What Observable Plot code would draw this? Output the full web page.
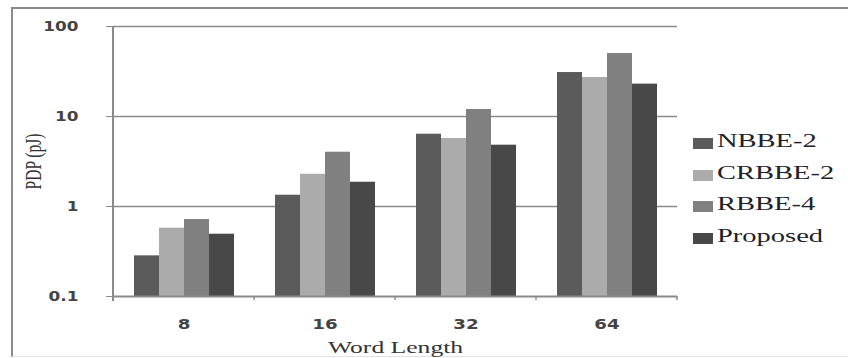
<!DOCTYPE html>
<html><head><meta charset="utf-8">
<script src="https://cdn.jsdelivr.net/npm/d3@7"></script>
<script src="https://cdn.jsdelivr.net/npm/@observablehq/plot@0.6"></script>
<style>
body{margin:0;background:#fff;}
#wrap{position:relative;width:848px;height:358px;overflow:hidden;background:#fff;}
#frame{position:absolute;left:11px;top:7px;width:900px;height:347px;border-left:2px solid #8a8a8a;border-top:2px solid #8a8a8a;border-bottom:1px solid #e2e2e2;}
#chart{position:absolute;left:0;top:0;}
#legend{position:absolute;left:693px;top:129px;font-family:"Liberation Serif",serif;font-size:19px;color:#1e2228;}
.row{position:relative;height:31.7px;}
.sw{position:absolute;left:0;top:9px;width:20px;height:11px;}
.lt{position:absolute;left:24px;top:0;line-height:24px;white-space:nowrap;transform:scaleX(1.5);transform-origin:left center;}
</style>
</head><body>
<div id="wrap"><div id="frame"></div><div id="chart"></div><div id="legend"></div></div>
<script>
const wordLengths = ["8", "16", "32", "64"];
const series = ["NBBE-2", "CRBBE-2", "RBBE-4", "Proposed"];
const nbbe2 = [0.283, 1.335, 6.36, 30.8];
const crbbe2 = [0.574, 2.28, 5.70, 27.1];
const rbbe4 = [0.717, 4.01, 11.96, 50.1];
const proposed = [0.492, 1.86, 4.80, 22.9];
const yTicks = [0.1, 1, 10, 100];
const colors = ["#5b5b5b", "#ababab", "#808080", "#484848"];

const valuesBySeries = [nbbe2, crbbe2, rbbe4, proposed];
const data = [];
wordLengths.forEach((wl, i) => series.forEach((s, j) => data.push({wl, series: s, value: valuesBySeries[j][i]})));

const plot = Plot.plot({
  width: 848, height: 358,
  marginLeft: 112, marginRight: 170, marginTop: 26, marginBottom: 62,
  style: {background: "transparent", fontFamily: "DejaVu Sans", fontSize: "13.5px", color: "#444"},
  fx: {domain: wordLengths, padding: 0},
  x: {domain: series, paddingInner: 0, paddingOuter: 0.76, axis: null},
  y: {type: "log", domain: [0.1, 100]},
  color: {domain: series, range: colors},
  marks: [
    Plot.gridY(yTicks.slice(1), {stroke: "#8a8a8a", strokeOpacity: 1, strokeWidth: 1.6}),
    Plot.barY(data, {fx: "wl", x: "series", y1: 0.1, y2: "value", fill: "series"}),
    Plot.ruleY([0.1], {stroke: "#8a8a8a", strokeWidth: 2}),
    Plot.axisY({ticks: yTicks, tickFormat: d => String(d), tickSize: 7, tickPadding: 28, stroke: "#8a8a8a", fill: "#444", fontWeight: "bold",
      label: "PDP (pJ)", labelAnchor: "center", labelOffset: 88}),
    Plot.axisFx({anchor: "bottom", tickSize: 0, tickPadding: 23, fill: "#444", fontWeight: "bold", label: "Word Length", labelAnchor: "center", labelOffset: 56})
  ]
});
document.getElementById("chart").appendChild(plot);

// axis line and category boundary ticks from the plot's own scales
const fx = plot.scale("fx"), y = plot.scale("y");
const svg = d3.select(plot);
const xLeft = fx.apply(wordLengths[0]);
const xRight = fx.apply(wordLengths[wordLengths.length - 1]) + fx.bandwidth;
svg.append("line").attr("x1", xLeft).attr("x2", xLeft).attr("y1", y.apply(100)).attr("y2", y.apply(0.1) + 5)
  .attr("stroke", "#8a8a8a").attr("stroke-width", 2);
wordLengths.slice(1).forEach(wl => {
  const x = fx.apply(wl);
  svg.append("line").attr("x1", x).attr("x2", x).attr("y1", y.apply(0.1)).attr("y2", y.apply(0.1) + 4)
    .attr("stroke", "#8a8a8a").attr("stroke-width", 1.5);
});
svg.append("line").attr("x1", xRight).attr("x2", xRight).attr("y1", y.apply(0.1)).attr("y2", y.apply(0.1) + 4)
  .attr("stroke", "#8a8a8a").attr("stroke-width", 1.5);

// label fonts and horizontal stretch of the source image
svg.select("[aria-label='y-axis label'] text").text("PDP (pJ)");
svg.select("[aria-label='fx-axis label'] text").text("Word Length");
svg.selectAll("[aria-label='y-axis label'] text, [aria-label='fx-axis label'] text")
  .style("font-family", "'Liberation Serif'").style("font-weight", "normal").attr("fill", "#333");
svg.selectAll("[aria-label='y-axis label'] text").style("font-size", "15.5px").each(function () {
  const t = this.getAttribute("transform") || "";
  this.setAttribute("transform", t + " scale(1,1.45)");
});
svg.selectAll("[aria-label='fx-axis label'] text").style("font-size", "16px");
function stretch(sel, k) {
  sel.each(function () {
    const w = this.getComputedTextLength();
    if (w > 0) { this.setAttribute("textLength", w * k); this.setAttribute("lengthAdjust", "spacingAndGlyphs"); }
  });
}
stretch(svg.selectAll("[aria-label='y-axis tick label'] text"), 1.25);
stretch(svg.selectAll("[aria-label='fx-axis tick label'] text"), 1.35);
stretch(svg.selectAll("[aria-label='fx-axis label'] text"), 1.6);

// legend
const legend = d3.select("#legend");
series.forEach((s, i) => {
  const row = legend.append("div").attr("class", "row");
  row.append("div").attr("class", "sw").style("background", colors[i]);
  row.append("span").attr("class", "lt").text(s);
});
</script>
</body></html>
